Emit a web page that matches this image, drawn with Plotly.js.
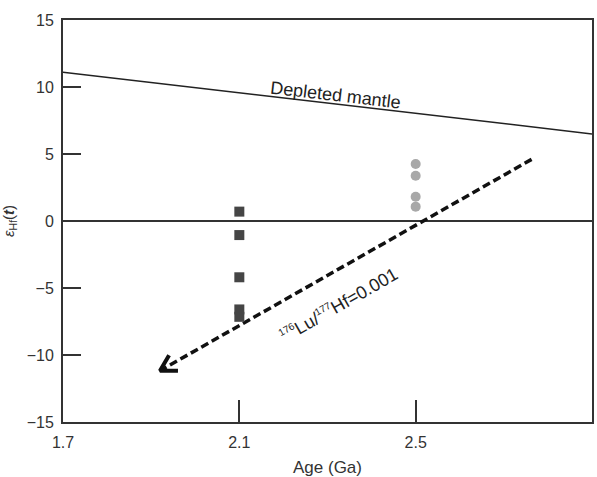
<!DOCTYPE html>
<html>
<head>
<meta charset="utf-8">
<script src="https://cdn.plot.ly/plotly-3.0.1.min.js"></script>
<style>html,body{margin:0;padding:0;background:#fff;}#chart{width:597px;height:477px;}</style>
</head>
<body>
<div id="chart"></div>
<script>
// Data
const squareAge = [2.1, 2.1, 2.1, 2.1, 2.1];
const squareEps = [0.7, -1.05, -4.2, -6.6, -7.15];
const circleAge = [2.5, 2.5, 2.5, 2.5];
const circleEps = [4.25, 3.38, 1.81, 1.07];
const mantleAge = [1.7, 2.9];
const mantleEps = [11.1, 6.5];
const arrowAge = [2.763, 1.92];   // start, tip
const arrowEps = [4.6, -11.17];
const xTicks = [1.7, 2.1, 2.5, 2.9];
const yTicks = [-15, -10, -5, 0, 5, 10, 15];

const W = 597, H = 477;
const M = {l: 63, r: 5, t: 20, b: 55};
const xRange = [1.7, 2.9], yRange = [-15, 15];
const pxX = (W - M.l - M.r) / (xRange[1] - xRange[0]);
const pxY = (H - M.t - M.b) / (yRange[1] - yRange[0]);

// arrowhead chevron computed in pixel space
const dxp = (arrowAge[0] - arrowAge[1]) * pxX;
const dyp = (arrowEps[0] - arrowEps[1]) * pxY;
const L = Math.hypot(dxp, dyp);
const ux = dxp / L, uy = dyp / L;
const ang = 30 * Math.PI / 180, armLen = 18;
function arm(sign) {
  const c = Math.cos(sign * ang), s = Math.sin(sign * ang);
  const rx = ux * c - uy * s, ry = ux * s + uy * c;
  return [arrowAge[1] + rx * armLen / pxX, arrowEps[1] + ry * armLen / pxY];
}
const a1 = arm(1), a2 = arm(-1);
const lineAngleDeg = Math.atan2(dyp, dxp) * 180 / Math.PI;
const mAngle = Math.atan2((mantleEps[0] - mantleEps[1]) * pxY, (mantleAge[1] - mantleAge[0]) * pxX) * 180 / Math.PI;

const axisColor = '#333';
const fam = 'Liberation Sans, Arial, sans-serif';
const tickFont = {family: fam, size: 16, color: '#333'};

const traces = [
  {x: mantleAge, y: mantleEps, mode: 'lines', line: {color: '#222', width: 1.5}, hoverinfo: 'skip'},
  {x: [arrowAge[0], arrowAge[1] + ux * 3 / pxX], y: [arrowEps[0], arrowEps[1] + uy * 3 / pxY], mode: 'lines',
   line: {color: '#111', width: 3.5, dash: '8px,4px'}, hoverinfo: 'skip'},
  {x: [a1[0], arrowAge[1], a2[0]], y: [a1[1], arrowEps[1], a2[1]], mode: 'lines',
   line: {color: '#111', width: 4}, hoverinfo: 'skip'},
  {x: squareAge, y: squareEps, mode: 'markers', marker: {symbol: 'square', size: 10, color: '#454545'}},
  {x: circleAge, y: circleEps, mode: 'markers', marker: {symbol: 'circle', size: 10, color: '#a8a8a8'}}
];

const layout = {
  width: W, height: H,
  margin: M,
  paper_bgcolor: '#fff', plot_bgcolor: '#fff',
  showlegend: false,
  font: tickFont,
  xaxis: {
    range: xRange, tickvals: xTicks, ticktext: xTicks.map(v => v.toFixed(1)),
    ticks: 'inside', ticklen: 22, tickwidth: 2, tickcolor: axisColor,
    showline: true, linecolor: axisColor, linewidth: 2, mirror: true,
    showgrid: false, zeroline: false,
    tickfont: tickFont, ticklabelstandoff: 5,
    title: {text: 'Age (Ga)', font: {family: fam, size: 17, color: '#333'}, standoff: 16}
  },
  yaxis: {
    range: yRange, tickvals: yTicks,
    ticks: 'inside', ticklen: 18, tickwidth: 2, tickcolor: axisColor,
    showline: true, linecolor: axisColor, linewidth: 2, mirror: true,
    showgrid: false, zeroline: true, zerolinecolor: '#333', zerolinewidth: 1.5,
    tickfont: tickFont, ticklabelstandoff: 4,
    title: {text: '<i>ε</i><sub>Hf</sub>(<i><b>t</b></i>)', font: {family: fam, size: 15, color: '#333'}, standoff: 12}
  },
  annotations: [
    {x: 2.318, y: 9.4, xref: 'x', yref: 'y', text: 'Depleted mantle', showarrow: false,
     textangle: mAngle, font: {family: fam, size: 18, color: '#222'}},
    {x: 2.325, y: -6.3, xref: 'x', yref: 'y',
     text: '<sup><span style="font-size:10px">176</span></sup>Lu/<sup><span style="font-size:10px">177</span></sup>Hf=0.001',
     showarrow: false, textangle: -lineAngleDeg, font: {family: fam, size: 18, color: '#222'}}
  ]
};

Plotly.newPlot('chart', traces, layout, {displayModeBar: false, staticPlot: true});
</script>
</body>
</html>
